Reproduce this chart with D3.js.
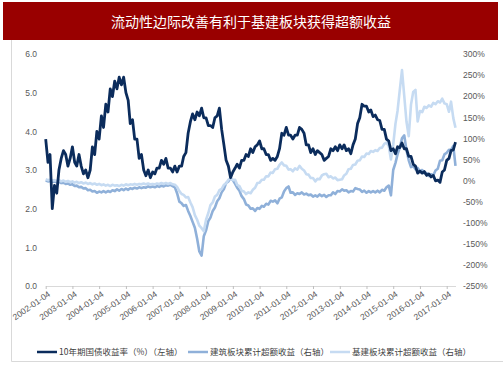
<!DOCTYPE html>
<html>
<head>
<meta charset="utf-8">
<script src="https://cdn.jsdelivr.net/npm/d3@7"></script>
<style>
body { margin: 0; background: #fff; }
</style>
</head>
<body>
<div id="chart"></div>
<script>
// Size of the picture
const W = 503,
    H = 378;

const titleText = "流动性边际改善有利于基建板块获得超额收益";

// x axis labels (one per year)
const tickLabels = ["2002-01-04", "2003-01-04", "2004-01-04", "2005-01-04", "2006-01-04", "2007-01-04",
    "2008-01-04", "2009-01-04", "2010-01-04", "2011-01-04", "2012-01-04", "2013-01-04",
    "2014-01-04", "2015-01-04", "2016-01-04", "2017-01-04"];

const leftTicks = [0, 1, 2, 3, 4, 5, 6];
const rightTicks = [-250, -200, -150, -100, -50, 0, 50, 100, 150, 200, 250, 300];

// monthly values, first one is 2002-01
const yieldVals = [
    3.8, 3.2, 3.4, 2.0, 2.6, 2.4, 3.0, 3.3, 3.5, 3.4,
    3.1, 3.3, 3.6, 3.2, 3.1, 3.4, 3.1, 2.9, 3.0, 2.8,
    3.0, 3.6, 3.4, 4.0, 3.8, 4.4, 4.1, 4.7, 4.5, 5.1,
    4.9, 5.3, 5.1, 5.4, 5.2, 5.4, 5.0, 4.8, 4.2, 4.3,
    3.8, 3.8, 3.3, 3.4, 3.0, 2.85, 3.0, 2.8, 2.95, 2.9,
    3.05, 3.05, 3.25, 3.15, 3.3, 3.05, 3.05, 2.95, 3.1, 2.95,
    3.1, 3.1, 3.35, 3.45, 3.95, 4.25, 4.45, 4.3, 4.5, 4.4,
    4.6, 4.35, 4.35, 4.15, 4.15, 4.1, 4.35, 4.4, 4.6, 4.05,
    3.65, 3.25, 3.1, 2.8, 2.95, 3.05, 3.15, 3.05, 3.25, 3.25,
    3.4, 3.35, 3.55, 3.45, 3.6, 3.65, 3.75, 3.55, 3.55, 3.4,
    3.4, 3.25, 3.3, 3.25, 3.35, 3.55, 3.95, 3.9, 4.1, 3.9,
    3.9, 3.8, 3.9, 3.9, 4.1, 4.05, 3.95, 3.65, 3.65, 3.45,
    3.55, 3.4, 3.5, 3.45, 3.4, 3.25, 3.3, 3.35, 3.55, 3.5,
    3.6, 3.5, 3.65, 3.55, 3.65, 3.5, 3.55, 3.42, 3.65, 3.8,
    4.2, 4.35, 4.7, 4.65, 4.65, 4.5, 4.55, 4.38, 4.42, 4.3,
    4.28, 4.05, 4.05, 3.8, 3.75, 3.5, 3.55, 3.42, 3.6, 3.58,
    3.7, 3.55, 3.55, 3.35, 3.35, 3.15, 3.1, 2.92, 2.97, 2.92,
    2.96, 2.86, 2.9, 2.82, 2.86, 2.72, 2.74, 2.68, 2.95, 3.0,
    3.25, 3.3, 3.5, 3.52, 3.72
];

// 建筑板块累计超额收益 (%)
const jianzhuVals = [
    0, -2, -1, -3, -2, -4, -3, -6, -5, -8,
    -7, -10, -9, -13, -12, -16, -15, -19, -18, -23,
    -22, -26, -25, -29, -26, -28, -25, -28, -25, -27,
    -23, -25, -21, -24, -20, -23, -19, -22, -18, -20,
    -17, -19, -16, -18, -16, -17, -14, -16, -14, -16,
    -13, -15, -12, -14, -11, -12, -10, -13, -16, -30,
    -50, -54, -60, -58, -72, -84, -98, -112, -138, -168,
    -178, -132, -118, -96, -88, -72, -64, -49, -42, -28,
    -20, -6, -2, 6, 1, -8, -17, -24, -37, -44,
    -57, -59, -67, -66, -72, -65, -67, -60, -62, -55,
    -57, -48, -50, -47, -54, -43, -40, -26, -18, -14,
    -29, -28, -34, -30, -32, -28, -33, -31, -35, -33,
    -38, -35, -38, -33, -37, -34, -39, -35, -35, -28,
    -32, -25, -26, -21, -24, -23, -28, -25, -26, -18,
    -20, -21, -27, -24, -29, -25, -28, -25, -28, -24,
    -28, -22, -24, -16, -12, -35, 25, 42, 62, 78,
    100, 107, 72, 48, 32, 35, 27, 30, 22, 25,
    17, 18, 11, 15, 12, 24, 28, 47, 48, 62,
    66, 73, 72, 82, 35
];

// 基建板块累计超额收益 (%)
const jijianVals = [
    3, 1, 2, 0, 1, -1, 1, -2, 0, -3,
    -1, -4, -2, -5, -3, -6, -4, -7, -5, -8,
    -6, -9, -7, -10, -8, -11, -9, -12, -10, -13,
    -10, -12, -11, -13, -10, -12, -9, -11, -9, -10,
    -8, -10, -8, -9, -7, -9, -7, -9, -8, -9,
    -7, -8, -6, -8, -6, -8, -6, -9, -10, -15,
    -25, -32, -34, -40, -39, -52, -63, -82, -93, -107,
    -113, -120, -93, -77, -58, -52, -38, -34, -23, -20,
    -10, -7, 2, 6, 1, 2, -10, -13, -24, -26,
    -32, -28, -30, -22, -17, -6, -5, 2, 2, 10,
    10, 19, 18, 27, 28, 37, 43, 36, 35, 26,
    27, 22, 29, 26, 35, 28, 24, 15, 14, 6,
    6, -2, 4, 3, 12, 15, 16, 8, 10, 5,
    7, 1, 2, 3, 12, 16, 27, 28, 37, 38,
    47, 48, 57, 56, 64, 63, 70, 68, 72, 70,
    77, 78, 87, 90, 82, 50, 85, 135, 165, 215,
    262, 200, 140, 105, 180, 210, 215, 140, 165, 162,
    175, 172, 178, 175, 184, 181, 188, 185, 194, 183,
    181, 163, 187, 148, 125
];

const seriesNames = ["10年期国债收益率（%）（左轴）", "建筑板块累计超额收益（右轴）", "基建板块累计超额收益（右轴）"];
const seriesColors = ["#0b2c5c", "#8fb0d9", "#c6dbf2"];

const fontLatin = "'Liberation Sans', Arial, 'Noto Sans CJK SC', sans-serif";
const fontCJK = "'Noto Sans CJK SC', 'Liberation Sans', sans-serif";

let svg = d3.select("#chart")
    .append("svg")
    .attr("width", W)
    .attr("height", H);

// title bar
svg.append("rect")
    .attr("x", 3)
    .attr("y", 2)
    .attr("width", 495)
    .attr("height", 38)
    .attr("fill", "#990000");

svg.append("text")
    .attr("x", 251)
    .attr("y", 27)
    .attr("text-anchor", "middle")
    .attr("fill", "#ffffff")
    .style("font-family", fontCJK)
    .style("font-size", "14px")
    .text(titleText);

// frame (left + bottom)
svg.append("path")
    .attr("d", "M11.5,40 V361.5 H503")
    .attr("fill", "none")
    .attr("stroke", "#d9d9d9")
    .attr("stroke-width", 1);

let months = yieldVals.map((d, i) => new Date(2002, i, 4));

let x = d3.scaleTime()
    .domain([months[0], months[months.length - 1]])
    .range([45.7, 455.5]);

let yL = d3.scaleLinear()
    .domain([0, 6])
    .range([286, 54]);

let yR = d3.scaleLinear()
    .domain([-250, 300])
    .range([286, 54]);

// left axis
let gL = svg.append("g")
    .attr("transform", "translate(40,0)")
    .call(d3.axisLeft(yL).tickValues(leftTicks).tickSize(0).tickPadding(3).tickFormat(d3.format(".1f")));
gL.select(".domain").remove();

// right axis
let gR = svg.append("g")
    .attr("transform", "translate(460,0)")
    .call(d3.axisRight(yR).tickValues(rightTicks).tickSize(0).tickPadding(3).tickFormat(d => d + "%"));
gR.select(".domain").remove();

// bottom axis
let tickDates = tickLabels.map(d => d3.timeParse("%Y-%m-%d")(d));
let gX = svg.append("g")
    .attr("transform", "translate(0,286)")
    .call(d3.axisBottom(x).tickValues(tickDates).tickSize(3).tickSizeOuter(0).tickFormat(d3.timeFormat("%Y-%m-%d")));
gX.select(".domain").attr("stroke", "#d9d9d9");
gX.selectAll(".tick line").attr("stroke", "#bfbfbf");
gX.selectAll(".tick text")
    .attr("x", 0)
    .attr("y", 0)
    .attr("dy", "0.35em")
    .attr("text-anchor", "end")
    .attr("transform", "translate(3,7) rotate(-35)");

svg.selectAll(".tick text")
    .attr("fill", "#595959")
    .style("font-family", fontLatin)
    .style("font-size", "8.5px");

// lines
let lineL = d3.line()
    .x((d, i) => x(months[i]))
    .y(d => yL(d));

let lineR = d3.line()
    .x((d, i) => x(months[i]))
    .y(d => yR(d));

svg.append("path")
    .datum(jianzhuVals)
    .attr("d", lineR)
    .attr("fill", "none")
    .attr("stroke", seriesColors[1])
    .attr("stroke-width", 2.6)
    .attr("stroke-linejoin", "round");

svg.append("path")
    .datum(jijianVals)
    .attr("d", lineR)
    .attr("fill", "none")
    .attr("stroke", seriesColors[2])
    .attr("stroke-width", 2.6)
    .attr("stroke-linejoin", "round");

svg.append("path")
    .datum(yieldVals)
    .attr("d", lineL)
    .attr("fill", "none")
    .attr("stroke", seriesColors[0])
    .attr("stroke-width", 2.8)
    .attr("stroke-linejoin", "round");

// legend
const legendX = [37, 188, 330];
let legend = svg.append("g")
    .selectAll("g")
    .data(seriesNames)
    .join("g")
    .attr("transform", (d, i) => `translate(${legendX[i]},352)`);

legend.append("line")
    .attr("x1", 0)
    .attr("x2", 20)
    .attr("stroke", (d, i) => seriesColors[i])
    .attr("stroke-width", 2.5);

legend.append("text")
    .attr("x", 22)
    .attr("dy", "0.35em")
    .attr("fill", "#404040")
    .style("font-family", fontCJK)
    .style("font-size", "8.5px")
    .text(d => d);
</script>
</body>
</html>
